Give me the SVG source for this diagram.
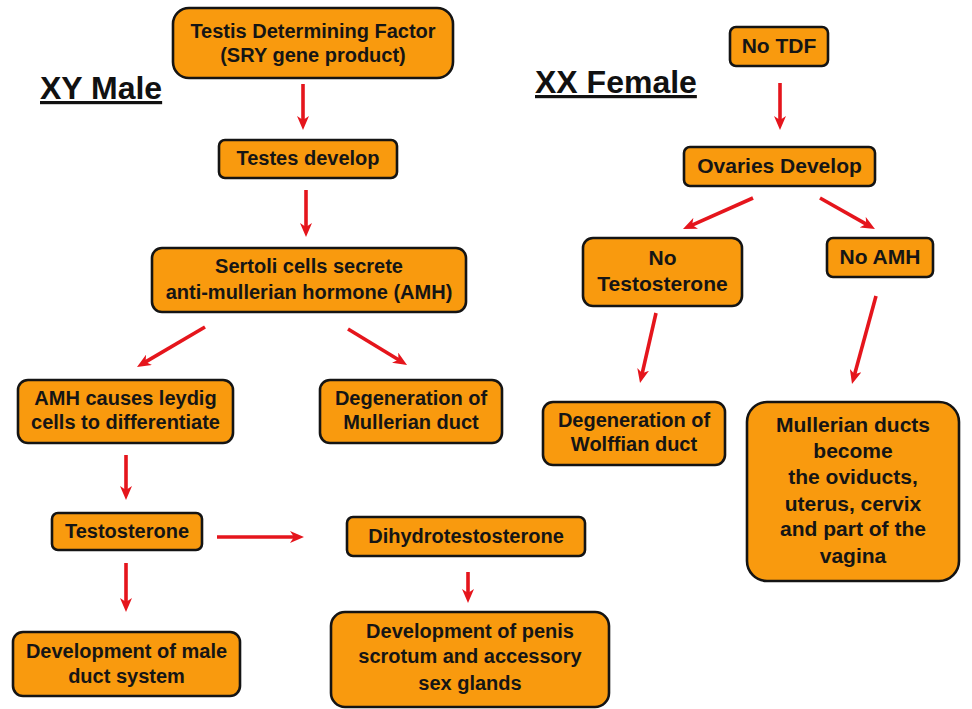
<svg xmlns="http://www.w3.org/2000/svg" width="972" height="709" viewBox="0 0 972 709">
  <defs>
    <style>
      .box { fill: #F99A0E; stroke: #141414; stroke-width: 2.6; }
      .lbl { font-family: "Liberation Sans", Arial, sans-serif; font-weight: bold; font-size: 20px; fill: #151515; text-anchor: middle; }
      .lbl-f { font-size: 21px; }
      .title { font-family: "Liberation Sans", Arial, sans-serif; font-weight: bold; font-size: 32px; fill: #111; text-decoration: underline; }
      .arrow { stroke: #E5151C; stroke-width: 3.6; fill: none; marker-end: url(#head); }
    </style>
    <marker id="head" viewBox="0 0 14 12" refX="6" refY="6" markerWidth="14" markerHeight="12" markerUnits="userSpaceOnUse" orient="auto">
      <path d="M0,0 L14,6 L0,12 L4,6 Z" fill="#E5151C"/>
    </marker>
  </defs>

  <rect width="972" height="709" fill="#ffffff"/>

  <!-- section headings -->
  <text class="title" x="40" y="99">XY Male</text>
  <text class="title" x="535" y="93">XX Female</text>

  <!-- connectors -->
  <g id="connectors">
    <line class="arrow" x1="303" y1="84" x2="303" y2="122"/>
    <line class="arrow" x1="306" y1="190" x2="306" y2="229"/>
    <line class="arrow" x1="205" y1="327" x2="143.9" y2="362.9"/>
    <line class="arrow" x1="348" y1="329" x2="400.2" y2="360.8"/>
    <line class="arrow" x1="126" y1="455" x2="126" y2="492"/>
    <line class="arrow" x1="217" y1="537" x2="296" y2="537"/>
    <line class="arrow" x1="126" y1="563" x2="126" y2="604"/>
    <line class="arrow" x1="468" y1="572" x2="468" y2="595"/>
    <line class="arrow" x1="780" y1="83" x2="780" y2="122"/>
    <line class="arrow" x1="753" y1="198" x2="690.3" y2="225.8"/>
    <line class="arrow" x1="820" y1="198" x2="868" y2="225.1"/>
    <line class="arrow" x1="656" y1="313" x2="641.8" y2="375.2"/>
    <line class="arrow" x1="876" y1="296" x2="854.1" y2="376.3"/>
  </g>

  <!-- male pathway -->
  <g id="tdf">
    <rect class="box" x="173" y="8" width="280" height="70" rx="16"/>
    <text class="lbl" x="313" y="38">Testis Determining Factor</text>
    <text class="lbl" x="313" y="62">(SRY gene product)</text>
  </g>
  <g id="testes">
    <rect class="box" x="219" y="140" width="178" height="38" rx="6"/>
    <text class="lbl" x="308" y="165">Testes develop</text>
  </g>
  <g id="sertoli">
    <rect class="box" x="152" y="248" width="314" height="64" rx="10"/>
    <text class="lbl" x="309" y="273">Sertoli cells secrete</text>
    <text class="lbl" x="309" y="299">anti-mullerian hormone (AMH)</text>
  </g>
  <g id="leydig">
    <rect class="box" x="18" y="380" width="215" height="63" rx="10"/>
    <text class="lbl" x="125.5" y="405">AMH causes leydig</text>
    <text class="lbl" x="125.5" y="429">cells to differentiate</text>
  </g>
  <g id="mullerian-degeneration">
    <rect class="box" x="320" y="380" width="182" height="63" rx="10"/>
    <text class="lbl" x="411" y="405">Degeneration of</text>
    <text class="lbl" x="411" y="429">Mullerian duct</text>
  </g>
  <g id="testosterone">
    <rect class="box" x="52" y="513" width="150" height="37" rx="6"/>
    <text class="lbl" x="127" y="538">Testosterone</text>
  </g>
  <g id="dht">
    <rect class="box" x="347" y="517" width="238" height="39" rx="6"/>
    <text class="lbl" x="466" y="543">Dihydrotestosterone</text>
  </g>
  <g id="male-duct">
    <rect class="box" x="13" y="632" width="227" height="64" rx="10"/>
    <text class="lbl" x="126.5" y="658">Development of male</text>
    <text class="lbl" x="126.5" y="683">duct system</text>
  </g>
  <g id="external-genitalia">
    <rect class="box" x="331" y="612" width="278" height="95" rx="14"/>
    <text class="lbl" x="470" y="638">Development of penis</text>
    <text class="lbl" x="470" y="663">scrotum and accessory</text>
    <text class="lbl" x="470" y="690">sex glands</text>
  </g>

  <!-- female pathway -->
  <g id="no-tdf">
    <rect class="box" x="730" y="27" width="98" height="39" rx="6"/>
    <text class="lbl lbl-f" x="779" y="53">No TDF</text>
  </g>
  <g id="ovaries">
    <rect class="box" x="684" y="147" width="191" height="39" rx="6"/>
    <text class="lbl lbl-f" x="779.5" y="173">Ovaries Develop</text>
  </g>
  <g id="no-testosterone">
    <rect class="box" x="583" y="238" width="159" height="68" rx="10"/>
    <text class="lbl lbl-f" x="662.5" y="265">No</text>
    <text class="lbl lbl-f" x="662.5" y="291">Testosterone</text>
  </g>
  <g id="no-amh">
    <rect class="box" x="827" y="238" width="106" height="39" rx="6"/>
    <text class="lbl lbl-f" x="880" y="264">No AMH</text>
  </g>
  <g id="wolffian-degeneration">
    <rect class="box" x="543" y="402" width="182" height="63" rx="10"/>
    <text class="lbl" x="634" y="427">Degeneration of</text>
    <text class="lbl" x="634" y="451">Wolffian duct</text>
  </g>
  <g id="mullerian-ducts">
    <rect class="box" x="747" y="402" width="212" height="179" rx="20"/>
    <text class="lbl lbl-f" x="853" y="432">Mullerian ducts</text>
    <text class="lbl lbl-f" x="853" y="458">become</text>
    <text class="lbl lbl-f" x="853" y="484">the oviducts,</text>
    <text class="lbl lbl-f" x="853" y="511">uterus, cervix</text>
    <text class="lbl lbl-f" x="853" y="536">and part of the</text>
    <text class="lbl lbl-f" x="853" y="563">vagina</text>
  </g>
</svg>
